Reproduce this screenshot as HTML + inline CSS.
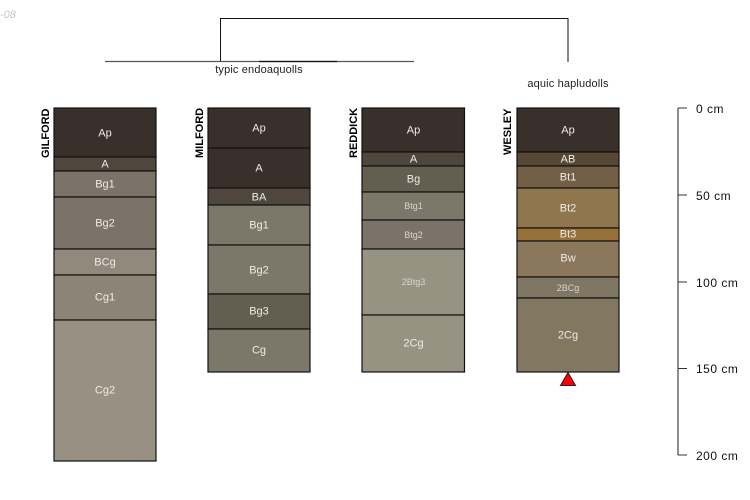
<!DOCTYPE html>
<html>
<head>
<meta charset="utf-8">
<style>
html,body{margin:0;padding:0;background:#fff;width:750px;height:500px;overflow:hidden}
svg{display:block}
text{font-family:"Liberation Sans",sans-serif}
.h{fill:#eeece6;font-size:11px;text-anchor:middle;dominant-baseline:central;transform:translateY(.5px)}
.s{fill:#d8d5cd;font-size:9px;text-anchor:middle;dominant-baseline:central;transform:translateY(.5px)}
.n{fill:#000;font-size:11px;font-weight:bold;text-anchor:start}
.t{fill:#222;font-size:11px;letter-spacing:.15px;text-anchor:middle}
.a{fill:#111;font-size:12px;letter-spacing:.5px}
rect{stroke:#111;stroke-width:1.2}
</style>
</head>
<body>
<svg width="750" height="500" viewBox="0 0 750 500" xmlns="http://www.w3.org/2000/svg">
<text x="0" y="18" font-size="11" font-style="italic" fill="#c8c8c8">-08</text>

<!-- dendrogram -->
<path d="M220.500 61.500V18.500H568V62" fill="none" stroke="#111" stroke-width="1"/>
<path d="M105 61.500H414" fill="none" stroke="#555" stroke-width="1.200"/>
<path d="M259 61.500H337" fill="none" stroke="#111" stroke-width="1.200"/>
<text class="t" x="259" y="73">typic endoaquolls</text>
<text class="t" x="568" y="87">aquic hapludolls</text>

<!-- GILFORD -->
<g>
<rect x="54" y="108" width="102" height="49" fill="#39302b"/>
<rect x="54" y="157" width="102" height="14" fill="#4f473d"/>
<rect x="54" y="171" width="102" height="26" fill="#7b7368"/>
<rect x="54" y="197" width="102" height="52" fill="#7b7368"/>
<rect x="54" y="249" width="102" height="26" fill="#918a7c"/>
<rect x="54" y="275" width="102" height="45" fill="#8c8577"/>
<rect x="54" y="320" width="102" height="141" fill="#989082"/>
<text class="h" x="105" y="133">Ap</text>
<text class="h" x="105" y="164">A</text>
<text class="h" x="105" y="184">Bg1</text>
<text class="h" x="105" y="223">Bg2</text>
<text class="h" x="105" y="262">BCg</text>
<text class="h" x="105" y="297">Cg1</text>
<text class="h" x="105" y="390">Cg2</text>
<text class="n" transform="translate(49,158) rotate(-90)">GILFORD</text>
</g>

<!-- MILFORD -->
<g>
<rect x="208" y="108" width="102" height="40" fill="#39302b"/>
<rect x="208" y="148" width="102" height="40" fill="#39302b"/>
<rect x="208" y="188" width="102" height="17" fill="#4f473d"/>
<rect x="208" y="205" width="102" height="40" fill="#7b7869"/>
<rect x="208" y="245" width="102" height="49" fill="#7b7869"/>
<rect x="208" y="294" width="102" height="35" fill="#625e50"/>
<rect x="208" y="329" width="102" height="43" fill="#7b7869"/>
<text class="h" x="259" y="128">Ap</text>
<text class="h" x="259" y="168">A</text>
<text class="h" x="259" y="197">BA</text>
<text class="h" x="259" y="225">Bg1</text>
<text class="h" x="259" y="270">Bg2</text>
<text class="h" x="259" y="311">Bg3</text>
<text class="h" x="259" y="350">Cg</text>
<text class="n" transform="translate(203,158) rotate(-90)">MILFORD</text>
</g>

<!-- REDDICK -->
<g>
<rect x="362" y="108" width="102.500" height="44" fill="#39302b"/>
<rect x="362" y="152" width="102.500" height="14" fill="#4f473d"/>
<rect x="362" y="166" width="102.500" height="26" fill="#625e50"/>
<rect x="362" y="192" width="102.500" height="28" fill="#7b7869"/>
<rect x="362" y="220" width="102.500" height="29" fill="#7b7368"/>
<rect x="362" y="249" width="102.500" height="66" fill="#969383"/>
<rect x="362" y="315" width="102.500" height="57" fill="#969383"/>
<text class="h" x="413.500" y="130">Ap</text>
<text class="h" x="413.500" y="159">A</text>
<text class="h" x="413.500" y="179">Bg</text>
<text class="s" x="413.500" y="205.500">Btg1</text>
<text class="s" x="413.500" y="234.500">Btg2</text>
<text class="s" x="413.500" y="281.500">2Btg3</text>
<text class="h" x="413.500" y="343">2Cg</text>
<text class="n" transform="translate(357,158) rotate(-90)">REDDICK</text>
</g>

<!-- WESLEY -->
<g>
<rect x="517" y="108" width="102" height="44" fill="#39302b"/>
<rect x="517" y="152" width="102" height="14" fill="#574836"/>
<rect x="517" y="166" width="102" height="22" fill="#725f45"/>
<rect x="517" y="188" width="102" height="40" fill="#90764f"/>
<rect x="517" y="228" width="102" height="13" fill="#96723a"/>
<rect x="517" y="241" width="102" height="36" fill="#8b775b"/>
<rect x="517" y="277" width="102" height="21" fill="#7f7663"/>
<rect x="517" y="298" width="102" height="74" fill="#827761"/>
<text class="h" x="568" y="130">Ap</text>
<text class="h" x="568" y="159">AB</text>
<text class="h" x="568" y="177">Bt1</text>
<text class="h" x="568" y="208">Bt2</text>
<text class="h" x="568" y="234">Bt3</text>
<text class="h" x="568" y="258">Bw</text>
<text class="s" x="568" y="287.500">2BCg</text>
<text class="h" x="568" y="335">2Cg</text>
<text class="n" transform="translate(511,155) rotate(-90)">WESLEY</text>
<polygon points="568,372.500 560.500,385.500 575.500,385.500" fill="#f00" stroke="#222" stroke-width="1"/>
</g>

<!-- depth axis -->
<path d="M678 108V455M678 108H687M678 195H687M678 282H687M678 368.500H687M678 455H687" fill="none" stroke="#333" stroke-width="1.100"/>
<text class="a" x="696" y="113">0 cm</text>
<text class="a" x="696" y="200">50 cm</text>
<text class="a" x="696" y="287">100 cm</text>
<text class="a" x="696" y="373">150 cm</text>
<text class="a" x="696" y="460">200 cm</text>
</svg>
</body>
</html>
